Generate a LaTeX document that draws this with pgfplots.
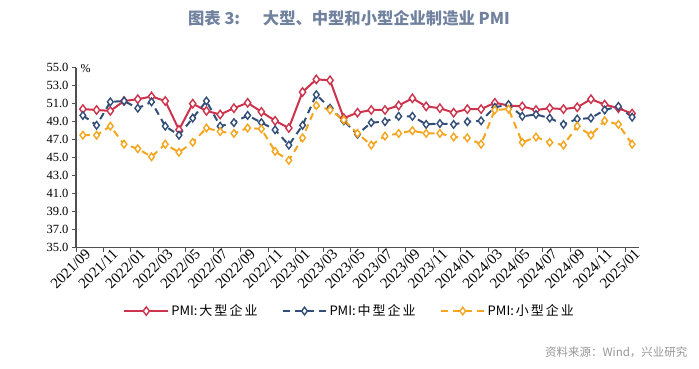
\documentclass[border=0pt]{standalone}
\usepackage{fontspec}
\setmainfont{Liberation Serif}
\newfontfamily\cjk{Noto Sans CJK SC}
\usepackage{pgfplots}
\usepackage{pgfplotstable}
\pgfplotsset{compat=1.18}
\definecolor{cred}{RGB}{204,51,76}
\definecolor{cblue}{RGB}{50,78,120}
\definecolor{corange}{RGB}{245,165,30}
\definecolor{ctitle}{RGB}{112,130,158}
\definecolor{caxis}{RGB}{80,80,80}
\definecolor{csrc}{RGB}{150,150,150}
\pgfplotstableread{
i L M S
0 50.4 49.7 47.5
1 50.3 48.6 47.5
2 50.2 51.2 48.5
3 51.3 51.3 46.5
4 51.5 50.5 46.0
5 51.8 51.2 45.1
6 51.3 48.5 46.5
7 48.1 47.5 45.6
8 51.0 49.4 46.7
9 50.2 51.3 48.3
10 49.8 48.5 47.9
11 50.5 48.9 47.7
12 51.1 49.7 48.3
13 50.1 48.9 48.2
14 49.1 48.1 45.7
15 48.3 46.4 44.7
16 52.3 48.6 47.2
17 53.7 52.0 50.8
18 53.6 50.5 50.3
19 49.4 49.1 49.2
20 50.0 47.6 47.7
21 50.3 48.9 46.4
22 50.3 49.0 47.4
23 50.8 49.6 47.7
24 51.6 49.6 48.0
25 50.7 48.7 47.7
26 50.5 48.8 47.7
27 50.0 48.7 47.3
28 50.4 49.0 47.2
29 50.4 49.1 46.5
30 51.1 50.6 50.3
31 50.8 50.9 50.4
32 50.7 49.6 46.7
33 50.3 49.8 47.3
34 50.5 49.4 46.7
35 50.4 48.7 46.4
36 50.6 49.3 48.5
37 51.5 49.4 47.5
38 50.9 50.3 49.1
39 50.5 50.7 48.7
40 49.9 49.5 46.5
}\datatable
\begin{document}
\begin{tikzpicture}
\path[use as bounding box] (0pt,0pt) rectangle (699pt,369pt);
\coordinate (AO) at (76pt,121.3pt);
\node[anchor=center, text=ctitle, font={\cjk\bfseries\fontsize{16.3}{19}\selectfont}] at (349pt,351pt) {图表 3:\hspace{1.4em}大型、中型和小型企业制造业 PMI};
\node[anchor=east, text=csrc, font={\cjk\fontsize{11.5}{14}\selectfont}] at (691pt,17pt) {资料来源：Wind，兴业研究};
\begin{axis}[
  at={(AO)}, anchor=south west,
  scale only axis, width=563pt, height=180pt,
  xmin=-0.5, xmax=40.5, ymin=35, ymax=55,
  axis x line*=bottom, axis y line*=left,
  axis line style={-, draw=caxis, line width=1.1pt},
  tick align=outside, major tick length=4pt,
  tick style={draw=caxis, line width=0.9pt},
  ytick={35,37,...,55},
  /pgf/number format/assume math mode=true,
  yticklabel style={font=\fontsize{12.5}{14}\selectfont, text=black, /pgf/number format/fixed, /pgf/number format/fixed zerofill, /pgf/number format/precision=1},
  xtick={-0.5,1.5,...,39.5},
  xticklabels={},
  extra x ticks={0,2,...,40},
  extra x tick labels={2021/09,2021/11,2022/01,2022/03,2022/05,2022/07,2022/09,2022/11,2023/01,2023/03,2023/05,2023/07,2023/09,2023/11,2024/01,2024/03,2024/05,2024/07,2024/09,2024/11,2025/01},
  extra x tick style={major tick length=0pt, xticklabel style={font=\fontsize{15}{17}\selectfont, text=black, rotate=45, anchor=north east, inner sep=1pt, xshift=2pt}},
  clip=false,
  legend columns=3,
  legend style={draw=none, fill=none, at={(0.486,-0.352)}, anchor=center,
    font={\cjk\fontsize{13}{15}\selectfont}, /tikz/every even column/.append style={column sep=22pt}},
  legend image code/.code={\draw[mark repeat=2,mark phase=2] plot coordinates {(0pt,0pt) (22pt,0pt) (44pt,0pt)};},
]
\addplot[cred, line width=2pt, mark=diamond*, mark size=4.2pt, mark options={solid, fill=white, draw=cred, line width=1.4pt}] table[x=i,y=L] {\datatable};
\addlegendentry{PMI:\kern2pt 大\kern2pt 型\kern2pt 企\kern2pt 业}
\addplot[cblue, line width=2pt, dash pattern=on 7pt off 5pt, mark=diamond*, mark size=3.8pt, mark options={solid, fill=white, draw=cblue, line width=1.4pt}] table[x=i,y=M] {\datatable};
\addlegendentry{PMI:\kern2pt 中\kern2pt 型\kern2pt 企\kern2pt 业}
\addplot[corange, line width=2pt, dash pattern=on 7pt off 5pt, mark=diamond*, mark size=3.8pt, mark options={solid, fill=white, draw=corange, line width=1.4pt}] table[x=i,y=S] {\datatable};
\addlegendentry{PMI:\kern2pt 小\kern2pt 型\kern2pt 企\kern2pt 业}
\node[anchor=north west, font=\fontsize{12}{14}\selectfont, inner sep=0pt] at (axis description cs:0.008,1.02) {\%};
\end{axis}
\end{tikzpicture}
\end{document}
